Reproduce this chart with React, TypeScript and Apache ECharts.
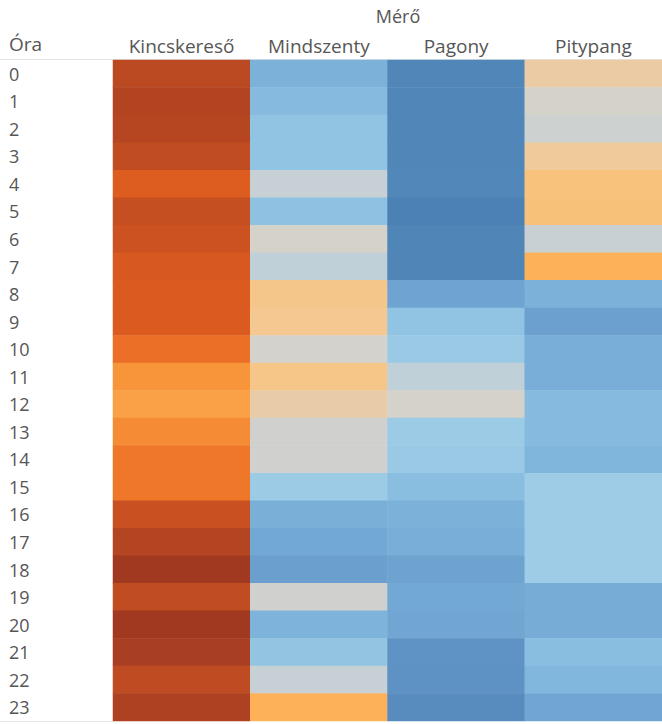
import React, { useEffect, useRef } from "react";
import * as echarts from "echarts";

const hours = ["0","1","2","3","4","5","6","7","8","9","10","11","12","13","14","15","16","17","18","19","20","21","22","23"];
const meters = ["Kincskereső", "Mindszenty", "Pagony", "Pitypang"];

const kincskereso = [82, 86, 84, 80, 70, 78, 76, 72, 71, 71, 62, 50, 46, 53, 59, 59, 77, 85, 95, 80, 95, 90, 81, 88];
const mindszenty = [-55, -50, -45, -45, -18, -46, -2, -22, 22, 20, -5, 23, 10, -8, -8, -40, -56, -60, -65, -8, -54, -44, -18, 40];
const pagony = [-82, -82, -82, -82, -81, -88, -83, -83, -62, -45, -41, -22, -3, -40, -41, -48, -55, -57, -63, -60, -61, -72, -73, -77];
const pitypang = [12, -2, -12, 16, 27, 28, -16, 40, -55, -64, -57, -57, -50, -50, -53, -39, -39, -39, -39, -58, -58, -48, -52, -61];

const columns = [kincskereso, mindszenty, pagony, pitypang];

const palette = [
  "#3f74aa", "#4a7fb4", "#5388ba", "#6396c8", "#72a8d4", "#86bbdf", "#9ccbe6",
  "#b2cfe0", "#c4d0d6", "#cfd1cf", "#d6d2c8", "#e8cca8", "#f4c890", "#f9bf74",
  "#fdb25a", "#f8953a", "#ee7428", "#dd5c20", "#c04c22", "#a83e22", "#9a3420",
];

const FONT = "'Open Sans', sans-serif";

export default function App() {
  const ref = useRef<HTMLDivElement>(null);
  useEffect(() => {
    if (!ref.current) return;
    const chart = echarts.init(ref.current, null, { renderer: "svg" });
    const data: [number, number, number][] = [];
    columns.forEach((col, xi) => {
      col.forEach((v, yi) => data.push([xi, yi, v]));
    });
    chart.setOption({
      animation: false,
      backgroundColor: "#ffffff",
      grid: { left: 113, right: 0, top: 60, bottom: 3 },
      xAxis: {
        type: "category",
        data: meters,
        position: "top",
        axisLine: { show: false },
        axisTick: { show: false },
        splitLine: { show: false },
        axisLabel: { color: "#565656", fontSize: 19, fontFamily: FONT, margin: 5, interval: 0, hideOverlap: false },
      },
      yAxis: {
        type: "category",
        data: hours,
        inverse: true,
        axisLine: { show: false },
        axisTick: { show: false },
        splitLine: { show: false },
        axisLabel: { color: "#565656", fontSize: 18, fontFamily: FONT, align: "left", margin: 104, interval: 0 },
      },
      visualMap: {
        show: false,
        type: "continuous",
        min: -100,
        max: 100,
        dimension: 2,
        inRange: { color: palette },
      },
      graphic: [
        { type: "text", x: 9, y: 44, style: { text: "Óra", fill: "#565656", font: `19px ${FONT}`, verticalAlign: "middle" } },
        { type: "text", x: 398, y: 16, style: { text: "Mérő", fill: "#565656", font: `18px ${FONT}`, align: "center", verticalAlign: "middle" } },
        { type: "line", shape: { x1: 0, y1: 59.5, x2: 662, y2: 59.5 }, style: { stroke: "#e4e4e4", lineWidth: 1 } },
        { type: "line", shape: { x1: 0, y1: 721.5, x2: 113, y2: 721.5 }, style: { stroke: "#e4e4e4", lineWidth: 1 } },
      ],
      series: [
        {
          type: "heatmap",
          data,
          itemStyle: { borderWidth: 0 },
          emphasis: { disabled: true },
        },
      ],
    });
    return () => chart.dispose();
  }, []);
  return <div ref={ref} style={{ position: "fixed", left: 0, top: 0, width: 662, height: 724 }} />;
}
